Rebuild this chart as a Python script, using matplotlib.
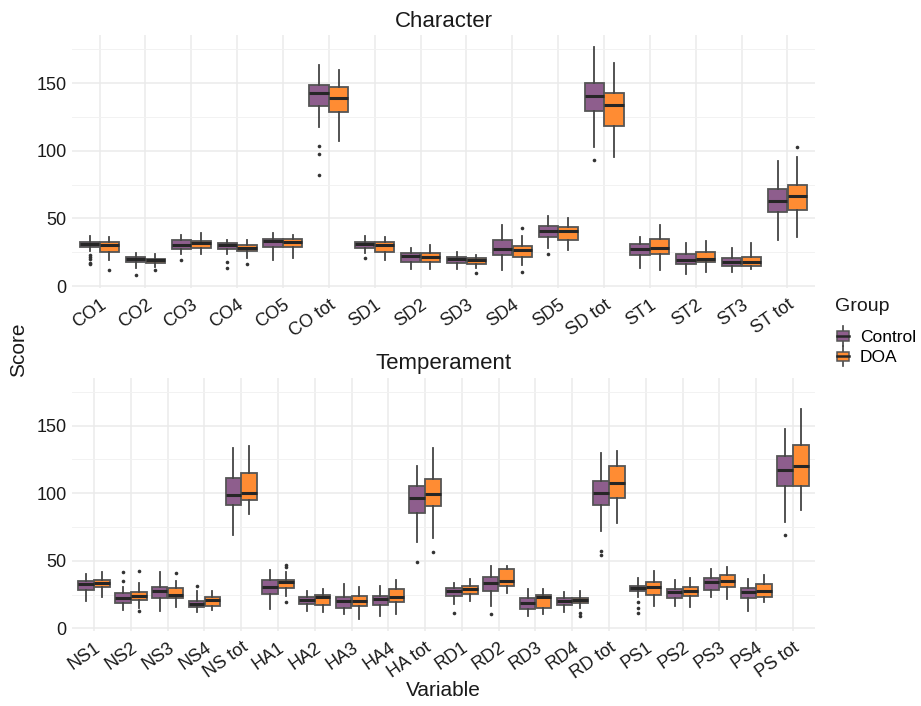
import numpy as np
import matplotlib
matplotlib.use("Agg")
import matplotlib.pyplot as plt
from matplotlib.patches import Rectangle, Patch
from matplotlib.lines import Line2D
from matplotlib.legend_handler import HandlerBase

plt.rcParams['font.family'] = ['Liberation Sans', 'DejaVu Sans']

# ---- data: box stats (whislo, q1, med, q3, whishi) ----
char_vars = ["CO1", "CO2", "CO3", "CO4", "CO5", "CO tot",
             "SD1", "SD2", "SD3", "SD4", "SD5", "SD tot",
             "ST1", "ST2", "ST3", "ST tot"]

char_ctrl = [
    [26, 28.7, 31, 32.6, 37], [13.5, 17.4, 19.8, 21.3, 24.5],
    [24, 27.7, 30.6, 33.8, 38], [24, 27.7, 30, 32, 34],
    [19.6, 29, 33.3, 35, 39], [117.6, 133, 142.6, 148.8, 163.5],
    [24.5, 28, 31, 32.4, 36.8], [12.7, 18, 22.5, 24.5, 28],
    [12.7, 17, 19.8, 21.3, 25], [11.8, 22.8, 27, 34.3, 45],
    [28, 36, 41, 44.6, 52], [103, 129, 140.4, 149.8, 177],
    [13.5, 22.8, 27, 31.4, 36], [8.8, 16.4, 19.6, 23.3, 31.9],
    [10.5, 15, 17.6, 20.8, 28], [34.3, 55, 63.2, 71.8, 92.6],
]
char_ctrl_out = [[23, 21.5, 20, 17, 16], [8], [19.5], [17.6, 13], [],
                 [103.7, 97.5, 81.9], [21], [], [], [], [23.3], [93],
                 [], [], [], []]

char_doa = [
    [19.6, 25, 30, 32.6, 36], [14, 17, 19, 20.3, 24],
    [23.5, 28.4, 31.6, 33.6, 39], [21, 25.7, 28.2, 30.6, 34],
    [21, 29, 32.6, 34.5, 38], [107, 128.7, 139, 146.8, 160],
    [19.6, 25, 30, 32.4, 36], [12.7, 18, 21.3, 24.5, 30],
    [13.5, 16.2, 18.9, 20.6, 22.8], [15.4, 21.6, 26.5, 29.4, 36.8],
    [26.5, 33.8, 40.4, 43.9, 50], [95, 118.4, 133.6, 143, 165],
    [11.8, 23.5, 28.2, 34.5, 45], [10, 17.9, 20, 25, 33],
    [12.7, 14.5, 17.9, 21.8, 31.9], [36.3, 56.4, 66.2, 75, 95.6],
]
char_doa_out = [[12], [12], [], [16.4], [], [], [], [], [9.6], [43, 10.3],
                [], [], [], [], [], [102.7]]

temp_vars = ["NS1", "NS2", "NS3", "NS4", "NS tot",
             "HA1", "HA2", "HA3", "HA4", "HA tot",
             "RD1", "RD2", "RD3", "RD4", "RD tot",
             "PS1", "PS2", "PS3", "PS4", "PS tot"]

temp_ctrl = [
    [20, 28.4, 32.6, 35.3, 40], [13.8, 18.8, 22.2, 26, 30.9],
    [13, 22.2, 27.4, 30.9, 42], [12.3, 15.5, 18, 20.5, 28],
    [68.9, 91, 99, 111.6, 133.6],
    [14.6, 25.4, 30.9, 35.8, 43], [13, 18, 20.7, 23.5, 28],
    [11, 15, 20, 23.5, 32.8], [9.4, 17.5, 21.5, 24.2, 31.6],
    [63.7, 85.4, 96.3, 105.7, 120.5],
    [18, 24.2, 27.9, 30, 33.8], [16.8, 27.9, 33.8, 37.8, 46.4],
    [9.4, 14, 18.5, 22.5, 29.1], [11.9, 17, 20.5, 22.2, 26.7],
    [72.3, 91.4, 100, 108.9, 129.6],
    [23, 27.7, 29.9, 31.6, 37.3], [16.8, 22.2, 27.2, 29.1, 35.6],
    [23, 28.6, 34.3, 37.5, 44.2], [13, 22.2, 27.2, 30.1, 36.3],
    [78.5, 105.2, 117.5, 127.7, 147.7],
]
temp_ctrl_out = [[], [41.7, 35.3], [], [31], [], [], [], [], [], [49.4],
                 [11.4], [10.6], [], [], [57.5, 54.6],
                 [19.8, 14.8, 11.4], [], [], [], [69.1]]

temp_doa = [
    [23.5, 30.4, 33.8, 35.8, 42], [15, 21.2, 24.2, 27, 33.3],
    [15.5, 22.2, 25, 29.6, 35.3], [13.6, 16.8, 21, 23.5, 27.4],
    [84.7, 95, 100, 115, 134.6],
    [24, 29.9, 34.3, 35.8, 42], [12.3, 17.3, 23, 24.7, 29],
    [6.9, 16.8, 20.5, 24, 30.4], [10.9, 19.8, 23, 29.4, 35.8],
    [66.9, 90.4, 99.5, 110.4, 133.6],
    [20, 25.4, 28.9, 31.6, 36.3], [25.9, 31.1, 35.3, 43.7, 46.4],
    [10.6, 15, 23, 24.7, 29.1], [15, 18.5, 21, 22.5, 27.4],
    [77.8, 96.8, 107.7, 120.2, 131.6],
    [16.8, 24.4, 30.9, 34.3, 42.5], [15.6, 23.7, 27.9, 30.4, 37.3],
    [21.7, 30.4, 34.8, 39.3, 45.2], [19.3, 23.2, 27.9, 32.8, 39.8],
    [87.7, 105.7, 120, 136, 162.5],
]
temp_doa_out = [[], [42.7, 12.6], [41], [], [], [47, 45.5, 19.8], [], [],
                [], [56.3], [], [], [], [11.1, 9.4], [], [], [], [], [], []]

groups = ["Control", "DOA"]
colors = ["#8E5E8D", "#FF8C33"]
edge = "#555555"


def to_stats(rows, outs):
    return [dict(whislo=r[0], q1=r[1], med=r[2], q3=r[3], whishi=r[4],
                 fliers=np.array(o, dtype=float)) for r, o in zip(rows, outs)]


def draw_panel(ax, names, ctrl, ctrl_out, doa, doa_out, title):
    x = np.arange(len(names))
    for stats, off, col in [(to_stats(ctrl, ctrl_out), -0.215, colors[0]),
                            (to_stats(doa, doa_out), 0.215, colors[1])]:
        ax.bxp(stats, positions=x + off, widths=0.42, patch_artist=True,
               showcaps=False,
               boxprops=dict(facecolor=col, edgecolor=edge, linewidth=1.3),
               medianprops=dict(color="#262626", linewidth=2.2),
               whiskerprops=dict(color="#444444", linewidth=1.3),
               flierprops=dict(marker="o", markersize=2.6,
                               markerfacecolor="#333333",
                               markeredgecolor="none"))
    ax.set_xlim(-0.6, len(names) - 0.4)
    ax.set_ylim(-1.6, 185.6)
    ax.set_xticks(x)
    ax.set_xticklabels(names, rotation=35, ha="right", va="top",
                       rotation_mode="anchor", fontsize=13)
    ax.set_yticks([0, 50, 100, 150])
    ax.set_yticks([25, 75, 125, 175], minor=True)
    ax.tick_params(axis="both", which="both", length=0, labelsize=13,
                   colors="#1a1a1a")
    ax.tick_params(axis="y", pad=4)
    ax.tick_params(axis="x", pad=6)
    ax.grid(which="major", color="#EBEBEB", linewidth=1.1)
    ax.grid(which="minor", axis="y", color="#F2F2F2", linewidth=0.7)
    ax.set_axisbelow(True)
    for s in ax.spines.values():
        s.set_visible(False)
    ax.set_title(title, fontsize=16, pad=6, color="#1a1a1a")


class BoxKey(HandlerBase):
    def create_artists(self, legend, orig_handle, xdescent, ydescent,
                       width, height, fontsize, trans):
        x0, y0 = -xdescent, -ydescent
        fc = orig_handle.get_facecolor()
        cx = x0 + width / 2
        w1 = Line2D([cx, cx], [y0 - 0.15 * height, y0 + 0.2 * height],
                    color="#444444", lw=1.2, transform=trans)
        w2 = Line2D([cx, cx], [y0 + 0.8 * height, y0 + 1.15 * height],
                    color="#444444", lw=1.2, transform=trans)
        box = Rectangle((x0 + 0.1 * width, y0 + 0.2 * height),
                        0.8 * width, 0.6 * height, facecolor=fc,
                        edgecolor=edge, lw=1.1, transform=trans)
        med = Line2D([x0 + 0.1 * width, x0 + 0.9 * width],
                     [y0 + 0.5 * height] * 2, color="#262626", lw=1.8,
                     transform=trans)
        return [w1, w2, box, med]


fig = plt.figure(figsize=(9.21, 7.06), dpi=100)
ax1 = fig.add_axes([0.0782, 0.5918, 0.8067, 0.3588])
ax2 = fig.add_axes([0.0782, 0.1069, 0.8067, 0.3583])

draw_panel(ax1, char_vars, char_ctrl, char_ctrl_out, char_doa, char_doa_out,
           "Character")
draw_panel(ax2, temp_vars, temp_ctrl, temp_ctrl_out, temp_doa, temp_doa_out,
           "Temperament")

fig.text(0.02, 0.505, "Score", rotation=90, ha="center", va="center",
         fontsize=15, color="#1a1a1a")
fig.text(0.481, 0.022, "Variable", ha="center", va="center", fontsize=15,
         color="#1a1a1a")

# legend: title as its own text so the gap can match the reference
fig.text(0.907, 0.566, "Group", ha="left", va="center", fontsize=14,
         color="#1a1a1a")
handles = [Patch(facecolor=c) for c in colors]
leg = fig.legend(handles, groups, loc="upper left",
                 bbox_to_anchor=(0.907, 0.535), frameon=False,
                 handler_map={Patch: BoxKey()}, fontsize=12.5,
                 handlelength=0.9, handleheight=1.0,
                 handletextpad=0.5, labelspacing=0.2, borderaxespad=0,
                 borderpad=0)

fig.savefig("out.png", dpi=100)
